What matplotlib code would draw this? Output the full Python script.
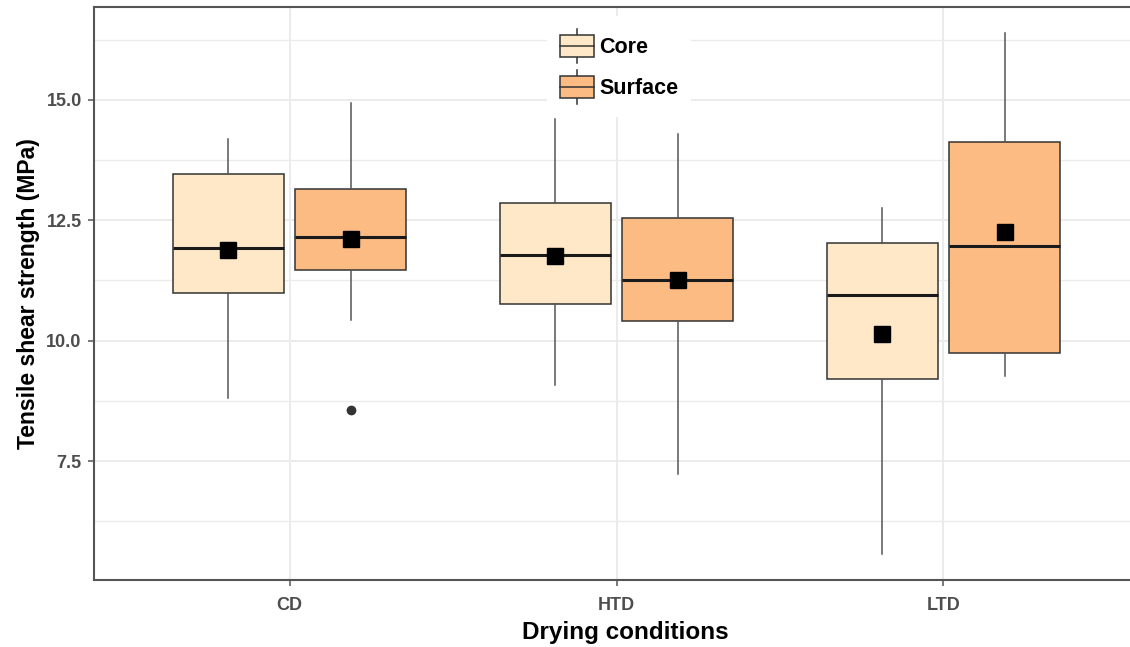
import numpy as np
import matplotlib
matplotlib.use('Agg')
from matplotlib import pyplot as plt
from matplotlib.patches import Rectangle
from matplotlib.lines import Line2D
from matplotlib.legend_handler import HandlerBase

# data
groups = ['CD', 'HTD', 'LTD']
series = ['Core', 'Surface']

core_whislo = [8.81, 9.08, 5.58]
core_q1 = [11.00, 10.76, 9.20]
core_med = [11.93, 11.78, 10.95]
core_q3 = [13.46, 12.85, 12.02]
core_whishi = [14.18, 14.60, 12.75]
core_mean = [11.88, 11.76, 10.14]
core_fliers = [[], [], []]

surf_whislo = [10.43, 7.24, 9.27]
surf_q1 = [11.46, 10.41, 9.74]
surf_med = [12.16, 11.25, 11.97]
surf_q3 = [13.15, 12.55, 14.12]
surf_whishi = [14.93, 14.29, 16.40]
surf_mean = [12.11, 11.25, 12.25]
surf_fliers = [[8.56], [], []]

y_major = [7.5, 10.0, 12.5, 15.0]
y_minor = [6.25, 8.75, 11.25, 13.75, 16.25]

colors = {'Core': '#FEE8C8', 'Surface': '#FDBB84'}
edge = '#333333'
font = 'Liberation Sans'


def make_stats(whislo, q1, med, q3, whishi, mean, fliers):
    stats = []
    for i in range(len(med)):
        stats.append(dict(whislo=whislo[i], q1=q1[i], med=med[i], q3=q3[i],
                          whishi=whishi[i], mean=mean[i], fliers=fliers[i]))
    return stats


class BoxKeyHandler(HandlerBase):
    # little boxplot glyph like ggplot legend keys
    def create_artists(self, legend, orig_handle, xdescent, ydescent,
                       width, height, fontsize, trans):
        x0, y0 = -xdescent, -ydescent
        cx = x0 + width / 2
        lo, hi = y0 + height * 0.19, y0 + height * 0.81
        w1 = Line2D([cx, cx], [y0, lo], color=edge, lw=1.1, transform=trans)
        w2 = Line2D([cx, cx], [hi, y0 + height], color=edge, lw=1.1, transform=trans)
        box = Rectangle((x0, lo), width, hi - lo, facecolor=orig_handle.get_facecolor(),
                        edgecolor=edge, lw=1.1, transform=trans)
        med = Line2D([x0, x0 + width], [y0 + height / 2] * 2, color=edge, lw=1.1,
                     transform=trans)
        return [w1, w2, box, med]


fig = plt.figure(figsize=(11.3, 6.47), dpi=100)
ax = fig.add_axes([93.5 / 1130, 1 - 580 / 647, 1046 / 1130, 573 / 647])

x = np.arange(len(groups))
offset = 0.187
width = 0.34

box_kw = dict(widths=width, patch_artist=True, showmeans=True, showcaps=False,
              boxprops=dict(edgecolor=edge, linewidth=1.1),
              whiskerprops=dict(color='#555555', linewidth=1.1),
              medianprops=dict(color='#1a1a1a', linewidth=2.2),
              meanprops=dict(marker='s', markerfacecolor='black', markeredgecolor='black',
                             markersize=11),
              flierprops=dict(marker='o', markerfacecolor='#333333', markeredgecolor='#333333',
                              markersize=6))

b1 = ax.bxp(make_stats(core_whislo, core_q1, core_med, core_q3, core_whishi, core_mean,
                       core_fliers), positions=x - offset, **box_kw)
b2 = ax.bxp(make_stats(surf_whislo, surf_q1, surf_med, surf_q3, surf_whishi, surf_mean,
                       surf_fliers), positions=x + offset, **box_kw)
for b, name in [(b1, 'Core'), (b2, 'Surface')]:
    for p in b['boxes']:
        p.set_facecolor(colors[name])

ax.set_xlim(-0.6, 2.6)
ax.set_ylim(5.03, 16.93)
ax.set_xticks(x)
ax.set_xticklabels(groups)
ax.set_yticks(y_major)
ax.set_yticklabels(['%.1f' % v for v in y_major])
ax.set_yticks(y_minor, minor=True)

ax.set_axisbelow(True)
ax.grid(which='major', color='#ebebeb', linewidth=1.4)
ax.grid(which='minor', axis='y', color='#ebebeb', linewidth=1.0)
ax.tick_params(which='minor', length=0)
ax.tick_params(which='major', length=4.5, width=1.1, color='#555555', labelcolor='#4d4d4d',
               labelsize=13)
ax.tick_params(axis='x', pad=8)
ax.tick_params(axis='y', pad=4)
for lbl in ax.get_xticklabels() + ax.get_yticklabels():
    lbl.set_fontweight('bold')
    lbl.set_family(font)
for s in ax.spines.values():
    s.set_color('#555555')
    s.set_linewidth(1.5)

ax.set_xlabel('Drying conditions', fontsize=17.5, fontweight='bold', family=font)
ax.set_ylabel('Tensile shear strength (MPa)', fontsize=16.5, fontweight='bold', family=font)
ax.xaxis.set_label_coords((625 - 93.5) / 1046, -0.072)
ax.yaxis.set_label_coords((40 - 93.5) / 1046, 0.5)

recs = [Rectangle((0, 0), 1, 1, fc=colors[n]) for n in series]
leg = ax.legend(recs, series, loc='upper center', bbox_to_anchor=((619 - 93.5) / 1046, 0.985),
                handler_map={Rectangle: BoxKeyHandler()},
                prop=dict(family=font, weight='bold', size=15.5),
                frameon=True, fancybox=False, facecolor='white', edgecolor='none',
                framealpha=1, handlelength=1.6, handleheight=2.1, labelspacing=0.3,
                handletextpad=0.25, borderpad=0.6, borderaxespad=0)

fig.savefig('out.png', dpi=100)
